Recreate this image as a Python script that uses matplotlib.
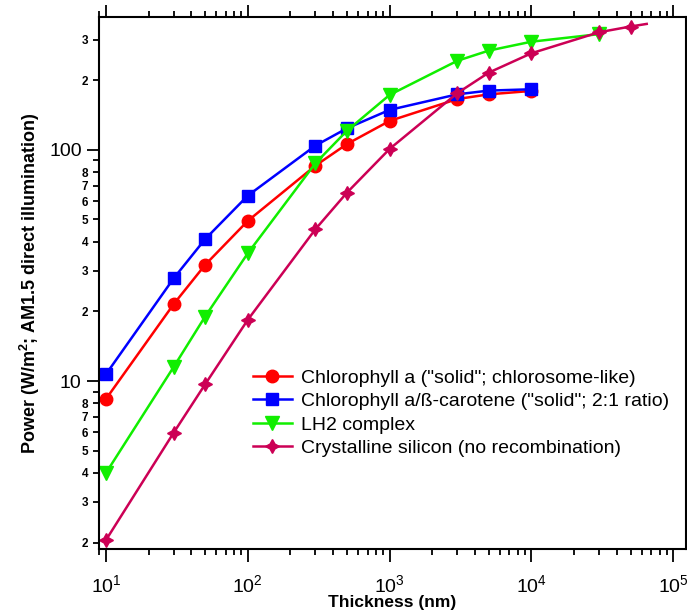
import numpy as np
import matplotlib
matplotlib.use("Agg")
import matplotlib.pyplot as plt
from matplotlib.ticker import FixedLocator, FuncFormatter, LogFormatterMathtext

plt.rcParams['font.family'] = ['Liberation Sans', 'DejaVu Sans']
plt.rcParams['mathtext.fontset'] = 'custom'
plt.rcParams['mathtext.rm'] = 'Liberation Sans'
plt.rcParams['mathtext.bf'] = 'Liberation Sans:bold'

# data
thick_chl = [10, 30, 50, 100, 300, 500, 1000, 3000, 5000, 10000]
power_chl = [8.36, 21.5, 31.8, 49.3, 85.5, 106, 133.5, 166, 174, 180]

thick_car = [10, 30, 50, 100, 300, 500, 1000, 3000, 5000, 10000]
power_car = [10.7, 27.8, 41.1, 63.4, 104.4, 124, 149, 174, 180.6, 183]

thick_lh2 = [10, 30, 50, 100, 300, 500, 1000, 3000, 5000, 10000, 30000]
power_lh2 = [4.0, 11.5, 19.0, 35.7, 87.6, 121, 173, 243, 269, 294, 317]

thick_si = [10, 30, 50, 100, 300, 500, 1000, 3000, 5000, 10000, 30000, 50000, 65000]
power_si = [2.05, 5.97, 9.67, 18.4, 45.4, 65.3, 101, 176, 216, 262, 323, 342, 351]

labels = ['Chlorophyll a ("solid"; chlorosome-like)',
          'Chlorophyll a/ß-carotene ("solid"; 2:1 ratio)',
          'LH2 complex',
          'Crystalline silicon (no recombination)']

fig = plt.figure(figsize=(6.87, 6.10), dpi=100)
ax = fig.add_axes([99/687, 1 - 549/610, 587/687, 532/610])

ax.plot(thick_chl, power_chl, color='#ff0000', lw=1.8, marker='o', ms=9, label=labels[0])
ax.plot(thick_car, power_car, color='#0000ff', lw=1.8, marker='s', ms=9, label=labels[1])
ax.plot(thick_lh2, power_lh2, color='#11ee00', lw=1.8, marker='v', ms=10, label=labels[2])
ax.plot(thick_si, power_si, color='#cc0055', lw=1.8, marker=(4, 1, 0), ms=10,
        markevery=list(range(len(thick_si) - 1)), label=labels[3])

ax.set_xscale('log')
ax.set_yscale('log')
ax.set_xlim(8.93, 1.23e5)
ax.set_ylim(1.875, 376)

# y ticks: majors labelled in full, minors by mantissa (9 left blank)
ax.yaxis.set_major_locator(FixedLocator([10, 100]))
ax.yaxis.set_major_formatter(FuncFormatter(lambda v, p: '%d' % round(v)))
yminor = [m * d for d in (1, 10, 100) for m in range(2, 10)]
ax.yaxis.set_minor_locator(FixedLocator(yminor))

def minor_fmt(v, p):
    m = int(round(v / 10 ** np.floor(np.log10(v) + 1e-9)))
    return '' if m == 9 else str(m)

ax.yaxis.set_minor_formatter(FuncFormatter(minor_fmt))
ax.xaxis.set_major_formatter(LogFormatterMathtext())

ax.tick_params(which='both', direction='out', top=True, right=True, width=1.3)
ax.tick_params(which='major', length=9, labelsize=14)
ax.tick_params(which='minor', length=4.5)
ax.tick_params(axis='y', which='minor', labelsize=8.5)
for t in ax.yaxis.get_minorticklabels():
    t.set_fontweight('bold')
ax.tick_params(axis='x', which='major', pad=9)

for s in ax.spines.values():
    s.set_linewidth(1.5)

ax.set_xlabel('Thickness (nm)', fontsize=12.5, fontweight='bold', labelpad=-1)
ax.set_ylabel(r'Power (W/m$^\mathbf{2}$; AM1.5 direct illumination)', fontsize=13,
              fontweight='bold', labelpad=5)

ax.legend(loc='upper left', bbox_to_anchor=(0.262, 0.338), frameon=False,
          fontsize=14, handlelength=2.0, handletextpad=0.5, labelspacing=0.3,
          borderaxespad=0, borderpad=0)

fig.savefig('out.png', dpi=100)
